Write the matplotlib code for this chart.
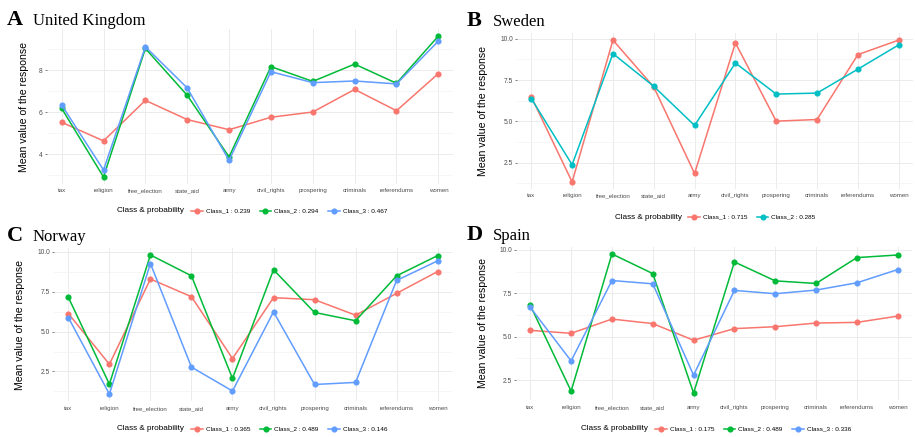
import matplotlib.pyplot as plt
from matplotlib.lines import Line2D
from matplotlib.ticker import FixedLocator

items = ['tax', 'religion', 'free_election', 'state_aid', 'army',
         'civil_rights', 'prospering', 'criminals', 'referendums', 'women']

RED, GREEN, BLUE, TEAL = '#F8766D', '#00BA38', '#619CFF', '#00BFC4'

# United Kingdom
uk_c1 = [5.52, 4.64, 6.56, 5.65, 5.17, 5.76, 6.01, 7.08, 6.07, 7.83]
uk_c2 = [6.18, 2.93, 9.02, 6.80, 3.88, 8.16, 7.46, 8.28, 7.37, 9.61]
uk_c3 = [6.34, 3.26, 9.10, 7.15, 3.72, 7.92, 7.40, 7.48, 7.34, 9.37]
uk_labels = ['Class_1 : 0.239', 'Class_2 : 0.294', 'Class_3 : 0.467']

# Sweden
se_c1 = [6.48, 1.33, 9.92, 7.08, 1.84, 9.75, 5.01, 5.11, 9.04, 9.92]
se_c2 = [6.38, 2.37, 9.10, 7.12, 4.75, 8.53, 6.65, 6.71, 8.16, 9.63]
se_labels = ['Class_1 : 0.715', 'Class_2 : 0.285']

# Norway
no_c1 = [6.13, 2.95, 8.30, 7.19, 3.31, 7.13, 7.00, 6.03, 7.40, 8.77]
no_c2 = [7.15, 1.70, 9.81, 8.50, 2.06, 8.88, 6.20, 5.68, 8.50, 9.77]
no_c3 = [5.88, 1.08, 9.27, 2.77, 1.27, 6.24, 1.68, 1.81, 8.21, 9.44]
no_labels = ['Class_1 : 0.365', 'Class_2 : 0.489', 'Class_3 : 0.146']

# Spain
es_c1 = [5.37, 5.20, 6.02, 5.76, 4.80, 5.47, 5.58, 5.79, 5.83, 6.19]
es_c2 = [6.81, 1.87, 9.77, 8.64, 1.76, 9.31, 8.22, 8.07, 9.56, 9.71]
es_c3 = [6.69, 3.61, 8.24, 8.05, 2.79, 7.67, 7.48, 7.69, 8.11, 8.87]
es_labels = ['Class_1 : 0.175', 'Class_2 : 0.489', 'Class_3 : 0.336']

W, H = 915, 437
fig = plt.figure(figsize=(W / 100, H / 100), dpi=100)
SANS = 'Liberation Sans'
SERIF = 'Liberation Serif'


def panel(letter, name, series, colors, labels, yticks, yfmt, minor,
          box, title_xy, ylab_x, leg_title_x, leg_x, leg_y, xlab_y):
    x0, x1, y0, y1 = box  # pixels, y measured from top
    ax = fig.add_axes([x0 / W, 1 - y1 / H, (x1 - x0) / W, (y1 - y0) / H])
    xs = range(len(items))
    for vals, c in zip(series, colors):
        ax.plot(xs, vals, color=c, lw=1.1, marker='o', ms=3.4, zorder=3)
    allv = [v for s in series for v in s]
    lo, hi = min(allv), max(allv)
    pad = 0.05 * (hi - lo)
    ax.set_ylim(lo - pad, hi + pad)
    ax.set_xlim(-0.35, len(items) - 1 + 0.35)
    ax.set_xticks(list(xs))
    ax.set_xticklabels([])
    for i, lab in enumerate(items):
        ax.text(i, 1 - (xlab_y - y0) / (y1 - y0), lab,
                transform=ax.get_xaxis_transform(), ha='center',
                va='center_baseline', fontsize=4.4, color='#4D4D4D',
                family=SANS)
    ax.set_yticks(yticks)
    ax.set_yticklabels([yfmt.format(t) for t in yticks], fontsize=4.8,
                       color='#4D4D4D', family=SANS)
    ax.yaxis.set_minor_locator(FixedLocator(minor))
    ax.tick_params(axis='x', length=0)
    ax.tick_params(axis='y', which='major', length=1.5, width=0.5,
                   color='#4D4D4D', pad=1.5)
    ax.tick_params(axis='y', which='minor', length=0)
    ax.grid(True, which='major', color='#EBEBEB', lw=0.7)
    ax.grid(True, which='minor', axis='y', color='#F3F3F3', lw=0.5)
    for s in ax.spines.values():
        s.set_visible(False)
    ax.set_axisbelow(True)
    fig.text(ylab_x / W, 1 - (y0 + y1) / 2 / H, 'Mean value of the response',
             rotation=90, ha='center', va='center', fontsize=7.6, family=SANS)
    tx, ty = title_xy
    fig.text(tx / W, 1 - ty / H, letter, fontsize=16, fontweight='bold',
             family=SERIF, va='baseline')
    fig.text((tx + 26) / W, 1 - ty / H, name, fontsize=12, family=SERIF,
             va='baseline')
    fig.text(leg_title_x / W, 1 - leg_y / H, 'Class & probability',
             fontsize=5.9, family=SANS, va='center', ha='left')
    handles = [Line2D([], [], color=c, lw=1.1, marker='o', ms=3.4)
               for c in colors]
    fig.legend(handles, labels, loc='center left',
               bbox_to_anchor=(leg_x / W, 1 - leg_y / H), ncol=len(labels),
               frameon=False, prop={'family': SANS, 'size': 4.6},
               handlelength=1.8, handletextpad=0.5, columnspacing=1.5,
               borderpad=0, borderaxespad=0)
    return ax


panel('A', 'United Kingdom', [uk_c1, uk_c2, uk_c3], [RED, GREEN, BLUE],
      uk_labels, [4, 6, 8], '{:g}', [3, 5, 7, 9],
      (47, 453, 29, 184), (7, 25), 24, 117, 191, 211, 190)
panel('B', 'Sweden', [se_c1, se_c2], [RED, TEAL],
      se_labels, [2.5, 5.0, 7.5, 10.0], '{:.1f}', [1.25, 3.75, 6.25, 8.75],
      (517, 913, 33, 189), (467, 26), 483, 615, 688, 217, 195)
panel('C', 'Norway', [no_c1, no_c2, no_c3], [RED, GREEN, BLUE],
      no_labels, [2.5, 5.0, 7.5, 10.0], '{:.1f}', [1.25, 3.75, 6.25, 8.75],
      (54, 452, 248, 401), (7, 241), 20, 117, 191, 429, 408)
panel('D', 'Spain', [es_c1, es_c2, es_c3], [RED, GREEN, BLUE],
      es_labels, [2.5, 5.0, 7.5, 10.0], '{:.1f}', [1.25, 3.75, 6.25, 8.75],
      (516, 912, 247, 400), (467, 240), 483, 581, 655, 429, 407)

fig.savefig('out.png', dpi=100, facecolor='white')
